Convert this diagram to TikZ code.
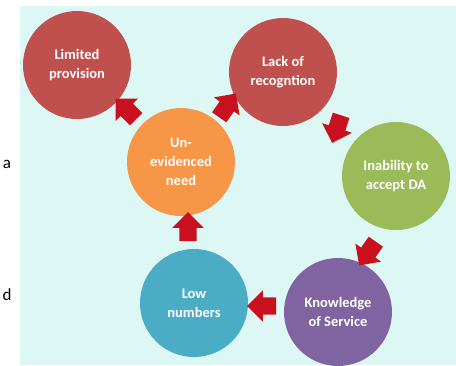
\documentclass[tikz,border=0pt]{standalone}
\usepackage{fontspec}
\setmainfont{Carlito}
\usetikzlibrary{shapes.arrows}
\definecolor{bgc}{RGB}{221,247,244}
\definecolor{cred}{RGB}{192,80,77}
\definecolor{corange}{RGB}{247,150,70}
\definecolor{cgreen}{RGB}{155,187,89}
\definecolor{cpurple}{RGB}{128,100,162}
\definecolor{cblue}{RGB}{75,172,198}
\definecolor{arrowred}{RGB}{200,16,30}
\tikzset{
  bubble/.style={circle, minimum size=108pt, inner sep=0pt, text=white, align=center,
    font=\bfseries\fontsize{14.5}{19}\selectfont},
  blockarrow/.style={single arrow, fill=arrowred, draw=none, inner sep=8.5pt,
    single arrow head extend=7pt, minimum height=29pt, single arrow head indent=0pt},
  strayletter/.style={font=\fontsize{17}{19}\selectfont, text=black, inner sep=0pt}
}
\begin{document}
\begin{tikzpicture}[x=1pt,y=-1pt]
\useasboundingbox (0,0) rectangle (456,365);
\fill[bgc] (20,6) rectangle (456,365);
\node[strayletter] (sa) at (7,164) {a};
\node[strayletter] (sd) at (7,295) {d};
\node[bubble, fill=cred] (lp) at (77,65) {Limited\\provision};
\node[bubble, fill=cred] (lr) at (283,72) {Lack of\\recogntion};
\node[bubble, fill=cgreen] (ia) at (396,176) {Inability to\\accept DA};
\node[bubble, fill=cpurple] (ks) at (338,312) {Knowledge\\of Service};
\node[bubble, fill=cblue] (ln) at (194,303) {Low\\numbers};
\node[bubble, fill=corange] (un) at (181,162) {Un-\\evidenced\\need};
\node[blockarrow, rotate=135] (a1) at (129,112) {};
\node[blockarrow, rotate=55] (a2) at (225,109) {};
\node[blockarrow, rotate=-108] (a3) at (338,125) {};
\node[blockarrow, rotate=-125] (a4) at (370,250) {};
\node[blockarrow, rotate=180] (a5) at (266,306) {};
\node[blockarrow, rotate=90] (a6) at (188,231) {};
\end{tikzpicture}
\end{document}
